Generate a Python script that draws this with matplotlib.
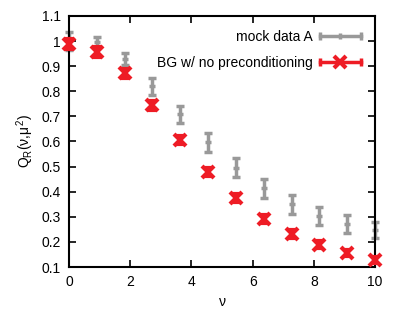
import matplotlib
matplotlib.use("Agg")
import matplotlib.pyplot as plt
from matplotlib.lines import Line2D
from matplotlib.legend_handler import HandlerBase

plt.rcParams["font.family"] = ["Liberation Sans", "DejaVu Sans"]
plt.rcParams["font.size"] = 10
plt.rcParams["mathtext.fontset"] = "custom"
plt.rcParams["mathtext.rm"] = "Liberation Sans"
plt.rcParams["mathtext.it"] = "Liberation Sans"

nu = [0.0, 0.909, 1.818, 2.727, 3.636, 4.545, 5.455, 6.364, 7.273, 8.182, 9.091, 10.0]
mock_q = [1.00, 0.995, 0.929, 0.819, 0.708, 0.596, 0.495, 0.413, 0.349, 0.303, 0.271, 0.247]
mock_err = [0.035, 0.02, 0.024, 0.034, 0.035, 0.036, 0.038, 0.038, 0.038, 0.037, 0.037, 0.032]
bg_q = [0.989, 0.958, 0.872, 0.745, 0.606, 0.478, 0.373, 0.291, 0.232, 0.189, 0.157, 0.129]
bg_err = [0.02, 0.02, 0.018, 0.018, 0.017, 0.016, 0.016, 0.015, 0.015, 0.014, 0.012, 0.012]

GRAY = "#999999"
RED = "#ee1c25"


class GnuplotSample(HandlerBase):
    """Horizontal line with end caps and a centre marker, like gnuplot keys."""

    def __init__(self, color, marker, ms, mew):
        super().__init__()
        self.color, self.marker, self.ms, self.mew = color, marker, ms, mew

    def create_artists(self, legend, orig_handle, xdescent, ydescent,
                       width, height, fontsize, trans):
        y = height / 2 - ydescent
        x0, x1 = -xdescent, width - xdescent
        line = Line2D([x0, x1], [y, y], color=self.color, lw=2.5,
                      transform=trans)
        caps = Line2D([x0, x1], [y, y], ls="none", marker="|", ms=6,
                      mew=2.5, color=self.color, transform=trans)
        mid = Line2D([(x0 + x1) / 2], [y], ls="none", marker=self.marker,
                     ms=self.ms, mew=self.mew, color=self.color,
                     transform=trans)
        return [line, caps, mid]


fig = plt.figure(figsize=(3.99, 3.19), dpi=100)
ax = fig.add_axes([0.173, 0.163, 0.767, 0.787])

h1 = ax.errorbar(nu, mock_q, yerr=mock_err, fmt="_", color=GRAY, ms=5, mew=2.5,
                 ecolor=GRAY, elinewidth=2.5, capsize=3, capthick=2.5,
                 zorder=2, clip_on=False)
h2 = ax.errorbar(nu, bg_q, yerr=bg_err, fmt="x", color=RED, ms=8, mew=3,
                 ecolor=RED, elinewidth=2.5, capsize=3, capthick=2.5,
                 zorder=3, clip_on=False)

ax.set_xlim(0, 10)
ax.set_ylim(0.1, 1.1)
ax.set_xticks([0, 2, 4, 6, 8, 10])
ax.set_yticks([0.1, 0.2, 0.3, 0.4, 0.5, 0.6, 0.7, 0.8, 0.9, 1.0, 1.1])
ax.set_yticklabels(["0.1", "0.2", "0.3", "0.4", "0.5", "0.6", "0.7",
                    "0.8", "0.9", "1", "1.1"])
ax.tick_params(direction="in", top=True, right=True, length=5, width=1.2,
               labelsize=10, pad=6)
for sp in ax.spines.values():
    sp.set_linewidth(1.5)

ax.set_xlabel(r"$\nu$", labelpad=4)
ax.set_ylabel(r"Q$_\mathregular{R}$($\nu$,$\mu^2$)", labelpad=4)

ax.legend([h1, h2], ["mock data A", "BG w/ no preconditioning"],
          handler_map={h1: GnuplotSample(GRAY, "|", 5, 2.5),
                       h2: GnuplotSample(RED, "x", 8, 3)},
          loc="upper right", markerfirst=False, frameon=False,
          handlelength=3.0, handletextpad=0.5, labelspacing=0.9,
          borderaxespad=0.6, fontsize=10)

fig.savefig("out.png", dpi=100)
